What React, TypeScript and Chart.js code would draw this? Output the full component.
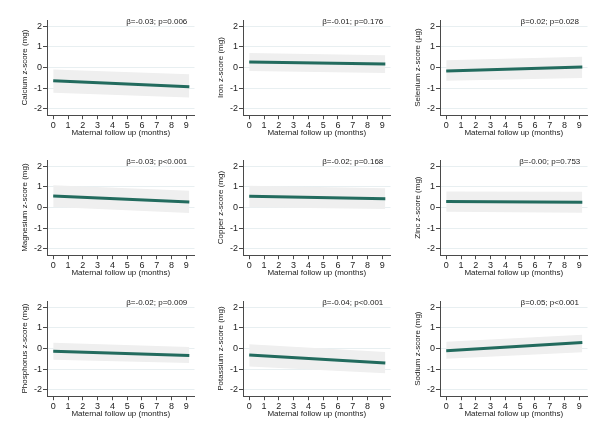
import { useEffect, useRef } from 'react';
import { Chart, registerables } from 'chart.js';

Chart.register(...registerables);

// Nine nutrient panels, laid out row by row
const nutrients = ['Calcium', 'Iron', 'Selenium', 'Magnesium', 'Copper', 'Zinc', 'Phosphorus', 'Potassium', 'Sodium'];
const units = ['mg', 'mg', 'µg', 'mg', 'mg', 'mg', 'mg', 'mg', 'mg'];
const betas = ['-0.03', '-0.01', '0.02', '-0.03', '-0.02', '-0.00', '-0.02', '-0.04', '0.05'];
const pValues = ['p=0.006', 'p=0.176', 'p=0.028', 'p<0.001', 'p=0.168', 'p=0.753', 'p=0.009', 'p<0.001', 'p<0.001'];

// Fitted trend and 95% band at the first and last follow-up month
const followUp = [0, 9.2];
const fitStart = [-0.64, 0.27, -0.16, 0.56, 0.55, 0.29, -0.13, -0.31, -0.1];
const fitEnd = [-0.92, 0.17, 0.03, 0.27, 0.43, 0.26, -0.33, -0.7, 0.29];
const lowerStart = [-1.22, -0.16, -0.64, 0.03, 0.02, -0.2, -0.54, -0.86, -0.49];
const lowerEnd = [-1.44, -0.26, -0.5, -0.26, -0.07, -0.25, -0.7, -1.19, -0.18];
const upperStart = [-0.09, 0.71, 0.36, 1.08, 1.05, 0.78, 0.28, 0.21, 0.33];
const upperEnd = [-0.32, 0.6, 0.52, 0.81, 0.93, 0.76, 0.08, -0.16, 0.67];

const xTickValues = [0, 1, 2, 3, 4, 5, 6, 7, 8, 9];
const yTickValues = [-2, -1, 0, 1, 2];
const xTitle = 'Maternal follow up (months)';

const PANEL_W = 196;
const PANEL_H = 140;
const FONT = "'Liberation Sans', Arial, Helvetica, sans-serif";
const TEXT = '#222222';
const AXIS = '#4a4a4a';

const annotationPlugin = {
  id: 'betaLabel',
  afterDatasetsDraw(chart: any, _args: any, opts: any) {
    const { ctx, scales } = chart;
    const x = scales.x.getPixelForValue(7);
    const y = scales.y.getPixelForValue(2.22);
    ctx.save();
    ctx.font = `8px ${FONT}`;
    ctx.fillStyle = TEXT;
    ctx.textAlign = 'center';
    ctx.textBaseline = 'middle';
    ctx.fillText(opts.text, x, y);
    ctx.restore();
  },
};

function Panel({ index }: { index: number }) {
  const ref = useRef<HTMLCanvasElement>(null);

  useEffect(() => {
    if (!ref.current) return;
    const pts = (a: number[], b: number[]) => followUp.map((m, k) => ({ x: m, y: k === 0 ? a[index] : b[index] }));
    const chart = new Chart(ref.current, {
      type: 'line',
      data: {
        datasets: [
          {
            data: pts(fitStart, fitEnd),
            borderColor: '#226b5e',
            borderWidth: 3,
            pointRadius: 0,
            fill: false,
          },
          {
            data: pts(upperStart, upperEnd),
            borderWidth: 0,
            borderColor: 'rgba(0,0,0,0)',
            backgroundColor: '#efefef',
            pointRadius: 0,
            fill: '+1',
          },
          {
            data: pts(lowerStart, lowerEnd),
            borderWidth: 0,
            borderColor: 'rgba(0,0,0,0)',
            pointRadius: 0,
            fill: false,
          },
        ],
      },
      options: {
        animation: false,
        responsive: false,
        devicePixelRatio: 1,
        layout: { padding: { top: 20, right: 1.5, left: 0, bottom: 0 } },
        plugins: {
          legend: { display: false },
          tooltip: { enabled: false },
          betaLabel: { text: `β=${betas[index]}; ${pValues[index]}` },
        } as any,
        scales: {
          x: {
            type: 'linear',
            min: -0.42,
            max: 9.55,
            afterFit: (s: any) => { s.height = 24.8; },
            afterBuildTicks: (s: any) => { s.ticks = xTickValues.map((v) => ({ value: v })); },
            ticks: { stepSize: 1, includeBounds: false, padding: 1, color: TEXT, font: { size: 9, family: FONT } },
            grid: { drawOnChartArea: false, tickLength: 4, tickColor: AXIS, tickWidth: 1 },
            border: { color: AXIS, width: 1 },
            title: { display: true, text: xTitle, color: TEXT, font: { size: 8, family: FONT }, padding: { top: 0, bottom: 2 } },
          },
          y: {
            type: 'linear',
            min: -2.3,
            max: 2.3,
            afterFit: (s: any) => { s.width = 47; },
            afterBuildTicks: (s: any) => { s.ticks = yTickValues.map((v) => ({ value: v })); },
            ticks: { stepSize: 1, includeBounds: false, padding: 1, color: TEXT, font: { size: 9, family: FONT } },
            grid: { color: '#e8eff1', lineWidth: 1, tickLength: 4, tickColor: AXIS, tickWidth: 1 },
            border: { color: AXIS, width: 1 },
            title: {
              display: true,
              text: `${nutrients[index]} z-score (${units[index]})`,
              color: TEXT,
              font: { size: 8, family: FONT },
              padding: { top: 20, bottom: 0 },
            },
          },
        },
      },
      plugins: [annotationPlugin],
    } as any);
    return () => chart.destroy();
  }, [index]);

  const col = index % 3;
  const row = Math.floor(index / 3);
  return (
    <canvas
      ref={ref}
      width={PANEL_W}
      height={PANEL_H}
      style={{
        position: 'absolute',
        left: [0, 196, 393][col],
        top: [0, 140, 281][row],
        width: PANEL_W,
        height: PANEL_H,
      }}
    />
  );
}

export default function App() {
  return (
    <div style={{ position: 'absolute', left: 0, top: 0, width: 608, height: 442, background: '#ffffff', overflow: 'hidden' }}>
      {nutrients.map((_, i) => (
        <Panel key={i} index={i} />
      ))}
    </div>
  );
}
